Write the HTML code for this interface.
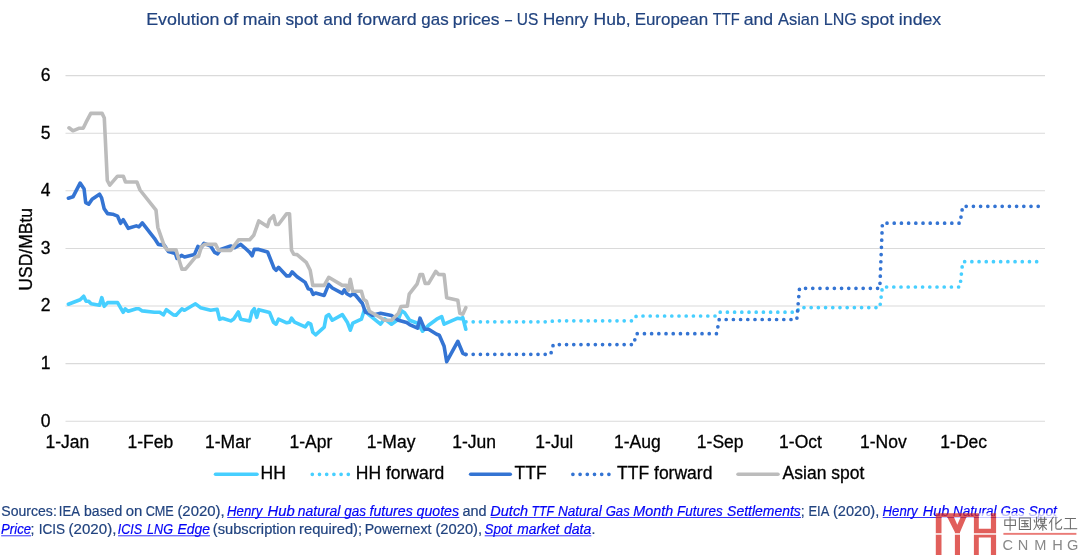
<!DOCTYPE html>
<html><head><meta charset="utf-8"><title>Gas prices</title>
<style>
html,body{margin:0;padding:0;background:#fff;}
body{width:1080px;height:558px;overflow:hidden;position:relative;font-family:"Liberation Sans",sans-serif;}
svg{position:absolute;left:0;top:0;}
text{font-family:"Liberation Sans",sans-serif;}
.ax{font-size:17.5px;fill:#000;stroke:#000;stroke-width:0.3px;}
.src{font-size:14px;fill:#21437f;}
.lnk{font-size:14px;fill:#0000ee;font-style:italic;}
</style></head><body>
<svg width="1080" height="558" viewBox="0 0 1080 558">
<defs><filter id="nf" x="0" y="0" width="100%" height="100%" filterUnits="userSpaceOnUse" color-interpolation-filters="sRGB"><feOffset dx="0" dy="0"/></filter></defs>
<g filter="url(#nf)">
<text x="146.17" y="25" font-size="17px" textLength="73.37" lengthAdjust="spacingAndGlyphs" fill="#21437f" stroke="#21437f" stroke-width="0.2">Evolution</text>
<text x="223.28" y="25" font-size="17px" textLength="15.11" lengthAdjust="spacingAndGlyphs" fill="#21437f" stroke="#21437f" stroke-width="0.2">of</text>
<text x="242.85" y="25" font-size="17px" textLength="38.35" lengthAdjust="spacingAndGlyphs" fill="#21437f" stroke="#21437f" stroke-width="0.2">main</text>
<text x="285.48" y="25" font-size="17px" textLength="32.69" lengthAdjust="spacingAndGlyphs" fill="#21437f" stroke="#21437f" stroke-width="0.2">spot</text>
<text x="323.31" y="25" font-size="17px" textLength="28.88" lengthAdjust="spacingAndGlyphs" fill="#21437f" stroke="#21437f" stroke-width="0.2">and</text>
<text x="357.33" y="25" font-size="17px" textLength="59.42" lengthAdjust="spacingAndGlyphs" fill="#21437f" stroke="#21437f" stroke-width="0.2">forward</text>
<text x="421.32" y="25" font-size="17px" textLength="27.31" lengthAdjust="spacingAndGlyphs" fill="#21437f" stroke="#21437f" stroke-width="0.2">gas</text>
<text x="452.86" y="25" font-size="17px" textLength="46.71" lengthAdjust="spacingAndGlyphs" fill="#21437f" stroke="#21437f" stroke-width="0.2">prices</text>
<text x="505.00" y="25" font-size="17px" textLength="7.01" lengthAdjust="spacingAndGlyphs" fill="#21437f" stroke="#21437f" stroke-width="0.2">–</text>
<text x="516.84" y="25" font-size="17px" textLength="21.52" lengthAdjust="spacingAndGlyphs" fill="#21437f" stroke="#21437f" stroke-width="0.2">US</text>
<text x="543.04" y="25" font-size="17px" textLength="45.32" lengthAdjust="spacingAndGlyphs" fill="#21437f" stroke="#21437f" stroke-width="0.2">Henry</text>
<text x="593.60" y="25" font-size="17px" textLength="36.93" lengthAdjust="spacingAndGlyphs" fill="#21437f" stroke="#21437f" stroke-width="0.2">Hub,</text>
<text x="634.64" y="25" font-size="17px" textLength="73.49" lengthAdjust="spacingAndGlyphs" fill="#21437f" stroke="#21437f" stroke-width="0.2">European</text>
<text x="712.71" y="25" font-size="17px" textLength="26.92" lengthAdjust="spacingAndGlyphs" fill="#21437f" stroke="#21437f" stroke-width="0.2">TTF</text>
<text x="743.69" y="25" font-size="17px" textLength="29.52" lengthAdjust="spacingAndGlyphs" fill="#21437f" stroke="#21437f" stroke-width="0.2">and</text>
<text x="778.00" y="25" font-size="17px" textLength="41.09" lengthAdjust="spacingAndGlyphs" fill="#21437f" stroke="#21437f" stroke-width="0.2">Asian</text>
<text x="823.71" y="25" font-size="17px" textLength="33.03" lengthAdjust="spacingAndGlyphs" fill="#21437f" stroke="#21437f" stroke-width="0.2">LNG</text>
<text x="861.07" y="25" font-size="17px" textLength="33.10" lengthAdjust="spacingAndGlyphs" fill="#21437f" stroke="#21437f" stroke-width="0.2">spot</text>
<text x="898.85" y="25" font-size="17px" textLength="42.34" lengthAdjust="spacingAndGlyphs" fill="#21437f" stroke="#21437f" stroke-width="0.2">index</text>
<line x1="65.5" x2="1045" y1="421.2" y2="421.2" stroke="#dadada" stroke-width="1.05"/>
<text class="ax" x="50.5" y="426.6" text-anchor="end">0</text>
<line x1="65.5" x2="1045" y1="363.6" y2="363.6" stroke="#dadada" stroke-width="1.05"/>
<text class="ax" x="50.5" y="369.0" text-anchor="end">1</text>
<line x1="65.5" x2="1045" y1="306.0" y2="306.0" stroke="#dadada" stroke-width="1.05"/>
<text class="ax" x="50.5" y="311.4" text-anchor="end">2</text>
<line x1="65.5" x2="1045" y1="248.4" y2="248.4" stroke="#dadada" stroke-width="1.05"/>
<text class="ax" x="50.5" y="253.8" text-anchor="end">3</text>
<line x1="65.5" x2="1045" y1="190.8" y2="190.8" stroke="#dadada" stroke-width="1.05"/>
<text class="ax" x="50.5" y="196.2" text-anchor="end">4</text>
<line x1="65.5" x2="1045" y1="133.2" y2="133.2" stroke="#dadada" stroke-width="1.05"/>
<text class="ax" x="50.5" y="138.6" text-anchor="end">5</text>
<line x1="65.5" x2="1045" y1="75.6" y2="75.6" stroke="#dadada" stroke-width="1.05"/>
<text class="ax" x="50.5" y="81.0" text-anchor="end">6</text>
<text class="ax" x="67.4" y="448" text-anchor="middle">1-Jan</text>
<text class="ax" x="150.3" y="448" text-anchor="middle">1-Feb</text>
<text class="ax" x="227.9" y="448" text-anchor="middle">1-Mar</text>
<text class="ax" x="310.9" y="448" text-anchor="middle">1-Apr</text>
<text class="ax" x="391.1" y="448" text-anchor="middle">1-May</text>
<text class="ax" x="474.1" y="448" text-anchor="middle">1-Jun</text>
<text class="ax" x="554.3" y="448" text-anchor="middle">1-Jul</text>
<text class="ax" x="637.3" y="448" text-anchor="middle">1-Aug</text>
<text class="ax" x="720.2" y="448" text-anchor="middle">1-Sep</text>
<text class="ax" x="800.5" y="448" text-anchor="middle">1-Oct</text>
<text class="ax" x="883.4" y="448" text-anchor="middle">1-Nov</text>
<text class="ax" x="963.7" y="448" text-anchor="middle">1-Dec</text>
<text class="ax" transform="translate(32.4,249.3) rotate(-90)" text-anchor="middle">USD/MBtu</text>
<polyline points="68.4,304.2 80.1,299.8 83.7,296.2 86.1,301.2 88.7,301.2 91.1,303.8 99.5,305.2 101.8,297.6 104.2,306.3 107.6,302.6 117.6,302.6 123.2,312.3 125.2,308.9 128.3,311.3 136.3,308.7 138.9,308.7 142.3,310.9 154.4,312.3 159.8,312.3 163.4,314.9 166.4,309.7 173.4,314.9 176.0,315.3 181.9,308.9 184.5,310.3 195.5,303.8 200.5,307.7 210.6,310.3 217.2,309.3 219.6,319.3 222.6,318.3 230.7,320.9 233.7,318.9 238.3,311.9 240.7,319.3 249.7,320.9 252.1,311.3 254.3,308.7 256.7,317.3 258.8,309.7 269.6,312.6 273.5,322.2 276.1,324.2 278.5,319.2 286.7,322.8 289.5,322.2 291.5,318.2 294.5,322.2 305.2,326.8 308.2,322.8 310.8,324.2 312.8,332.2 315.6,334.8 324.2,327.2 326.3,316.2 328.9,314.6 332.3,320.2 342.3,314.6 347.3,322.2 350.3,330.2 352.8,323.2 361.4,319.2 364.4,309.8 369.4,315.2 380.5,324.2 384.5,318.8 391.5,324.2 398.5,319.2 401.5,310.8 404.6,312.8 409.6,320.2 417.6,323.2 422.6,331.2 428.6,325.2 436.7,319.2 441.7,316.6 444.1,324.2 457.8,318.2 460.8,318.8 462.8,317.6 465.8,329.2" fill="none" stroke="#47cfff" stroke-width="3.6" stroke-linejoin="round" stroke-linecap="round"/>
<polyline points="466.0,321.8 550.7,321.8 553.3,320.8 633.6,320.8 636.3,316.0 716.6,316.0 719.2,312.2 796.8,312.2 799.5,307.6 879.8,307.6 882.4,287.0 960.0,287.0 962.7,261.7 1038.5,261.7" fill="none" stroke="#47cfff" stroke-width="3.7" stroke-linejoin="round" stroke-linecap="round" stroke-dasharray="0 7.2"/>
<polyline points="68.4,198.2 73.0,196.8 80.1,183.1 84.1,189.1 85.7,202.6 88.7,204.2 92.1,199.2 99.5,194.2 101.6,197.8 104.2,208.8 107.6,213.6 112.6,214.2 117.6,216.2 120.6,223.3 123.2,219.7 128.3,228.3 136.3,225.9 138.9,226.9 142.3,222.9 154.4,238.3 158.4,244.4 164.4,245.4 168.4,251.4 175.4,253.4 177.0,258.4 181.5,255.4 184.5,257.0 194.5,254.4 197.9,246.4 200.5,248.4 204.0,243.4 210.6,246.0 214.6,252.4 217.6,253.8 220.6,249.4 230.7,246.0 234.7,247.8 240.7,244.4 244.7,247.8 249.7,252.4 252.1,255.8 254.3,249.4 258.8,249.4 267.6,252.0 274.1,268.3 276.1,270.3 278.5,267.3 286.7,275.9 289.5,275.9 292.1,271.9 297.1,276.7 305.2,282.4 308.2,288.8 310.8,289.4 313.2,294.4 315.6,293.0 324.2,295.4 328.7,284.4 332.3,288.0 342.3,293.4 344.3,289.8 346.9,293.8 350.3,295.8 352.8,293.8 355.4,295.0 362.4,303.5 365.4,312.2 369.4,313.2 372.4,315.2 380.5,313.2 391.5,315.6 398.5,320.2 406.6,322.6 409.6,324.6 417.6,328.2 420.0,318.2 424.6,329.2 428.6,329.2 436.7,334.2 439.3,335.2 444.1,346.3 446.7,361.7 457.8,341.3 462.8,353.3 465.8,354.6" fill="none" stroke="#3474d3" stroke-width="3.6" stroke-linejoin="round" stroke-linecap="round"/>
<polyline points="466.0,354.3 550.7,354.3 553.3,344.6 633.6,344.6 636.3,333.7 716.6,333.7 719.2,319.5 796.8,319.5 799.5,288.3 879.8,288.3 882.4,223.2 960.0,223.2 962.7,206.3 1038.5,206.3" fill="none" stroke="#3474d3" stroke-width="3.7" stroke-linejoin="round" stroke-linecap="round" stroke-dasharray="0 7.2"/>
<polyline points="69.0,127.8 72.9,130.8 78.8,128.3 83.3,128.1 86.0,122.4 90.8,113.4 102.1,113.4 104.3,118.0 107.3,180.5 109.8,185.2 117.5,176.2 123.3,176.2 125.5,182.0 136.9,182.0 140.0,190.0 156.0,210.2 157.8,227.3 164.4,246.4 167.4,249.8 176.0,249.8 178.9,259.4 181.9,269.1 185.5,269.1 195.5,257.1 198.5,256.4 201.5,246.6 204.6,244.4 215.6,244.4 218.6,250.4 230.7,250.4 238.7,239.7 249.7,239.7 253.7,235.3 258.8,220.9 267.4,226.5 269.6,219.7 273.6,215.7 275.8,224.4 278.5,224.5 286.7,213.7 289.5,213.7 291.5,250.2 293.7,254.2 297.1,254.6 306.2,262.3 310.2,270.3 312.8,285.4 324.2,285.4 328.7,277.3 342.3,285.4 346.3,285.4 348.3,290.4 350.3,279.3 352.8,291.3 361.4,291.3 363.6,299.3 366.4,301.2 369.4,311.2 381.5,318.2 384.5,320.2 391.5,320.2 398.5,313.2 401.1,306.5 407.3,306.1 409.2,294.2 417.2,283.8 420.0,274.6 422.6,274.6 425.2,283.4 428.6,283.4 435.7,271.3 438.7,274.5 444.1,274.6 446.7,297.8 457.8,300.2 459.8,313.2 462.8,314.2 465.8,307.7" fill="none" stroke="#bcbcbc" stroke-width="3.6" stroke-linejoin="round" stroke-linecap="round"/>
<line x1="215.5" x2="257" y1="474.3" y2="474.3" stroke="#47cfff" stroke-width="3.5" stroke-linecap="round"/>
<text class="ax" x="260.6" y="479.35">HH</text>
<line x1="312.3" x2="349" y1="474.3" y2="474.3" stroke="#47cfff" stroke-width="3.7" stroke-linecap="round" stroke-dasharray="0 7.2"/>
<text class="ax" x="355.8" y="479.35">HH forward</text>
<line x1="470.6" x2="510.3" y1="474.3" y2="474.3" stroke="#3474d3" stroke-width="3.5" stroke-linecap="round"/>
<text class="ax" x="514.6" y="479.35">TTF</text>
<line x1="572.9" x2="610" y1="474.3" y2="474.3" stroke="#3474d3" stroke-width="3.7" stroke-linecap="round" stroke-dasharray="0 7.2"/>
<text class="ax" x="617.1" y="479.35">TTF forward</text>
<line x1="738" x2="778" y1="474.3" y2="474.3" stroke="#bcbcbc" stroke-width="3.5" stroke-linecap="round"/>
<text class="ax" x="782.6" y="479.35">Asian spot</text>
<text x="1.37" y="516" font-size="14px" textLength="55.42" lengthAdjust="spacingAndGlyphs" fill="#21437f" stroke="#21437f" stroke-width="0.2">Sources:</text>
<text x="58.82" y="516" font-size="14px" textLength="21.21" lengthAdjust="spacingAndGlyphs" fill="#21437f" stroke="#21437f" stroke-width="0.2">IEA</text>
<text x="84.09" y="516" font-size="14px" textLength="38.11" lengthAdjust="spacingAndGlyphs" fill="#21437f" stroke="#21437f" stroke-width="0.2">based</text>
<text x="125.70" y="516" font-size="14px" textLength="16.60" lengthAdjust="spacingAndGlyphs" fill="#21437f" stroke="#21437f" stroke-width="0.2">on</text>
<text x="145.67" y="516" font-size="14px" textLength="28.17" lengthAdjust="spacingAndGlyphs" fill="#21437f" stroke="#21437f" stroke-width="0.2">CME</text>
<text x="177.41" y="516" font-size="14px" textLength="47.21" lengthAdjust="spacingAndGlyphs" fill="#21437f" stroke="#21437f" stroke-width="0.2">(2020),</text>
<text x="227.10" y="516" font-size="14px" textLength="35.20" lengthAdjust="spacingAndGlyphs" fill="#0404f6" font-style="italic" stroke="#0404f6" stroke-width="0.2">Henry</text>
<text x="267.56" y="516" font-size="14px" textLength="27.18" lengthAdjust="spacingAndGlyphs" fill="#0404f6" font-style="italic" stroke="#0404f6" stroke-width="0.2">Hub</text>
<text x="297.79" y="516" font-size="14px" textLength="42.70" lengthAdjust="spacingAndGlyphs" fill="#0404f6" font-style="italic" stroke="#0404f6" stroke-width="0.2">natural</text>
<text x="344.30" y="516" font-size="14px" textLength="21.80" lengthAdjust="spacingAndGlyphs" fill="#0404f6" font-style="italic" stroke="#0404f6" stroke-width="0.2">gas</text>
<text x="369.50" y="516" font-size="14px" textLength="43.31" lengthAdjust="spacingAndGlyphs" fill="#0404f6" font-style="italic" stroke="#0404f6" stroke-width="0.2">futures</text>
<text x="416.50" y="516" font-size="14px" textLength="42.54" lengthAdjust="spacingAndGlyphs" fill="#0404f6" font-style="italic" stroke="#0404f6" stroke-width="0.2">quotes</text>
<line x1="227.2" x2="459.3" y1="517.5" y2="517.5" stroke="#1010fa" stroke-width="0.85"/>
<text x="462.42" y="516" font-size="14px" textLength="24.07" lengthAdjust="spacingAndGlyphs" fill="#21437f" stroke="#21437f" stroke-width="0.2">and</text>
<text x="490.37" y="516" font-size="14px" textLength="37.82" lengthAdjust="spacingAndGlyphs" fill="#0404f6" font-style="italic" stroke="#0404f6" stroke-width="0.2">Dutch</text>
<text x="531.39" y="516" font-size="14px" textLength="22.52" lengthAdjust="spacingAndGlyphs" fill="#0404f6" font-style="italic" stroke="#0404f6" stroke-width="0.2">TTF</text>
<text x="557.89" y="516" font-size="14px" textLength="43.82" lengthAdjust="spacingAndGlyphs" fill="#0404f6" font-style="italic" stroke="#0404f6" stroke-width="0.2">Natural</text>
<text x="605.64" y="516" font-size="14px" textLength="24.11" lengthAdjust="spacingAndGlyphs" fill="#0404f6" font-style="italic" stroke="#0404f6" stroke-width="0.2">Gas</text>
<text x="633.37" y="516" font-size="14px" textLength="39.76" lengthAdjust="spacingAndGlyphs" fill="#0404f6" font-style="italic" stroke="#0404f6" stroke-width="0.2">Month</text>
<text x="677.10" y="516" font-size="14px" textLength="45.68" lengthAdjust="spacingAndGlyphs" fill="#0404f6" font-style="italic" stroke="#0404f6" stroke-width="0.2">Futures</text>
<text x="727.08" y="516" font-size="14px" textLength="73.70" lengthAdjust="spacingAndGlyphs" fill="#0404f6" font-style="italic" stroke="#0404f6" stroke-width="0.2">Settlements</text>
<line x1="490.5" x2="801.0" y1="517.5" y2="517.5" stroke="#1010fa" stroke-width="0.85"/>
<text x="800.8" y="516" font-size="14px" fill="#21437f" stroke="#21437f" stroke-width="0.2">;</text>
<text x="808.46" y="516" font-size="14px" textLength="20.86" lengthAdjust="spacingAndGlyphs" fill="#21437f" stroke="#21437f" stroke-width="0.2">EIA</text>
<text x="832.92" y="516" font-size="14px" textLength="46.37" lengthAdjust="spacingAndGlyphs" fill="#21437f" stroke="#21437f" stroke-width="0.2">(2020),</text>
<text x="882.61" y="516" font-size="14px" textLength="35.01" lengthAdjust="spacingAndGlyphs" fill="#0404f6" font-style="italic" stroke="#0404f6" stroke-width="0.2">Henry</text>
<text x="922.87" y="516" font-size="14px" textLength="26.36" lengthAdjust="spacingAndGlyphs" fill="#0404f6" font-style="italic" stroke="#0404f6" stroke-width="0.2">Hub</text>
<text x="952.90" y="516" font-size="14px" textLength="43.52" lengthAdjust="spacingAndGlyphs" fill="#0404f6" font-style="italic" stroke="#0404f6" stroke-width="0.2">Natural</text>
<text x="1000.85" y="516" font-size="14px" textLength="23.80" lengthAdjust="spacingAndGlyphs" fill="#0404f6" font-style="italic" stroke="#0404f6" stroke-width="0.2">Gas</text>
<text x="1028.48" y="516" font-size="14px" textLength="28.49" lengthAdjust="spacingAndGlyphs" fill="#0404f6" font-style="italic" stroke="#0404f6" stroke-width="0.2">Spot</text>
<line x1="882.7" x2="1058.0" y1="517.5" y2="517.5" stroke="#1010fa" stroke-width="0.85"/>
<text x="1.11" y="534.3" font-size="14px" textLength="29.90" lengthAdjust="spacingAndGlyphs" fill="#0404f6" font-style="italic" stroke="#0404f6" stroke-width="0.2">Price</text>
<line x1="1.2" x2="31.0" y1="535.8" y2="535.8" stroke="#1010fa" stroke-width="0.85"/>
<text x="30.6" y="534.3" font-size="14px" fill="#21437f" stroke="#21437f" stroke-width="0.2">;</text>
<text x="38.78" y="534.3" font-size="14px" textLength="26.33" lengthAdjust="spacingAndGlyphs" fill="#21437f" stroke="#21437f" stroke-width="0.2">ICIS</text>
<text x="68.60" y="534.3" font-size="14px" textLength="47.74" lengthAdjust="spacingAndGlyphs" fill="#21437f" stroke="#21437f" stroke-width="0.2">(2020),</text>
<text x="117.80" y="534.3" font-size="14px" textLength="24.32" lengthAdjust="spacingAndGlyphs" fill="#0404f6" font-style="italic" stroke="#0404f6" stroke-width="0.2">ICIS</text>
<text x="147.12" y="534.3" font-size="14px" textLength="25.90" lengthAdjust="spacingAndGlyphs" fill="#0404f6" font-style="italic" stroke="#0404f6" stroke-width="0.2">LNG</text>
<text x="177.58" y="534.3" font-size="14px" textLength="32.41" lengthAdjust="spacingAndGlyphs" fill="#0404f6" font-style="italic" stroke="#0404f6" stroke-width="0.2">Edge</text>
<line x1="118.0" x2="210.0" y1="535.8" y2="535.8" stroke="#1010fa" stroke-width="0.85"/>
<text x="212.82" y="534.3" font-size="14px" textLength="83.12" lengthAdjust="spacingAndGlyphs" fill="#21437f" stroke="#21437f" stroke-width="0.2">(subscription</text>
<text x="299.04" y="534.3" font-size="14px" textLength="63.08" lengthAdjust="spacingAndGlyphs" fill="#21437f" stroke="#21437f" stroke-width="0.2">required);</text>
<text x="364.67" y="534.3" font-size="14px" textLength="66.77" lengthAdjust="spacingAndGlyphs" fill="#21437f" stroke="#21437f" stroke-width="0.2">Powernext</text>
<text x="435.42" y="534.3" font-size="14px" textLength="46.69" lengthAdjust="spacingAndGlyphs" fill="#21437f" stroke="#21437f" stroke-width="0.2">(2020),</text>
<text x="484.60" y="534.3" font-size="14px" textLength="27.40" lengthAdjust="spacingAndGlyphs" fill="#0404f6" font-style="italic" stroke="#0404f6" stroke-width="0.2">Spot</text>
<text x="517.29" y="534.3" font-size="14px" textLength="42.17" lengthAdjust="spacingAndGlyphs" fill="#0404f6" font-style="italic" stroke="#0404f6" stroke-width="0.2">market</text>
<text x="564.01" y="534.3" font-size="14px" textLength="27.30" lengthAdjust="spacingAndGlyphs" fill="#0404f6" font-style="italic" stroke="#0404f6" stroke-width="0.2">data</text>
<line x1="484.7" x2="591.3" y1="535.8" y2="535.8" stroke="#1010fa" stroke-width="0.85"/>
<text x="591.5" y="534.3" font-size="14px" fill="#21437f" stroke="#21437f" stroke-width="0.2">.</text>
<path d="M935.8 513.2H1080V558H935.8Z M935.8 513.2H978.8V554.9H973.9V517H966.5L960 532.3V554.9H954.9V532.3L947.2 517H941.5V554.9H935.8Z M953.9 517L957.3 524.8L960.7 517Z M990.9 513.2H996.1V554.9H990.9V537.6H978.8V528.8H990.9Z" fill="#fff" fill-rule="evenodd" opacity="0.74"/>
<path d="M935.8 513.2H978.8V554.9H973.9V517H966.5L960 532.3V554.9H954.9V532.3L947.2 517H941.5V554.9H935.8Z M953.9 517L957.3 524.8L960.7 517Z M990.9 513.2H996.1V554.9H990.9V537.6H978.8V528.8H990.9Z" fill="#d72d28" fill-rule="evenodd" opacity="0.76"/>
<rect x="935.3" y="533.25" width="61.5" height="1.45" fill="#fff"/>
<g transform="translate(1003.8,516.9)" fill="none" stroke="#6b6b6b" stroke-width="1.05" stroke-linecap="square"><path d="M6.3 0V13.2"/><path d="M1 3H11.6V8.6H1Z"/></g>
<g transform="translate(1018.6,516.9)" fill="none" stroke="#6b6b6b" stroke-width="1.05" stroke-linecap="square"><path d="M0.8 1H11.8V12.6H0.8Z"/><path d="M3 3.8H9.6"/><path d="M3.4 6.6H9.2"/><path d="M2.8 9.8H9.8"/><path d="M6.3 3.8V9.8"/><path d="M8 7.8L8.9 8.8"/></g>
<g transform="translate(1033.6,516.9)" fill="none" stroke="#6b6b6b" stroke-width="1.05" stroke-linecap="square"><path d="M2.9 0.4V6.5C2.8 9 1.8 11 0.3 12.6"/><path d="M3 7L5 10.6"/><path d="M0.6 3.2L1.3 5.2"/><path d="M5.2 2.8L4.4 4.8"/><path d="M5.6 2.4H12.8"/><path d="M7.3 0.4V6.4H11V0.4"/><path d="M7.3 4.4H11"/><path d="M5.4 8.4H12.9"/><path d="M9.2 6.4V13.2"/><path d="M9 8.6L5.6 12.4"/><path d="M9.4 8.6L12.8 12.4"/></g>
<g transform="translate(1049.0,516.9)" fill="none" stroke="#6b6b6b" stroke-width="1.05" stroke-linecap="square"><path d="M4.2 0.3L0.4 6.2"/><path d="M2.7 3.6V13.2"/><path d="M6.9 0.4V11C6.9 12 7.4 12.2 8.4 12.2H11.6C12.4 12.2 12.6 11.6 12.7 10"/><path d="M12.2 2.6L6.9 7"/></g>
<g transform="translate(1064.0,516.9)" fill="none" stroke="#6b6b6b" stroke-width="1.05" stroke-linecap="square"><path d="M1.4 1.6H11.4"/><path d="M6.4 1.6V11.8"/><path d="M0.2 11.8H12.7"/></g>
<rect x="1003.4" y="532.9" width="73" height="1.9" fill="#ea7b77"/>
<text x="1007.7" y="549.8" font-size="14.6px" text-anchor="middle" fill="#888">C</text>
<text x="1023.0" y="549.8" font-size="14.6px" text-anchor="middle" fill="#888">N</text>
<text x="1040.4" y="549.8" font-size="14.6px" text-anchor="middle" fill="#888">M</text>
<text x="1057.6" y="549.8" font-size="14.6px" text-anchor="middle" fill="#888">H</text>
<text x="1072.7" y="549.8" font-size="14.6px" text-anchor="middle" fill="#888">G</text>
</g></svg></body></html>
